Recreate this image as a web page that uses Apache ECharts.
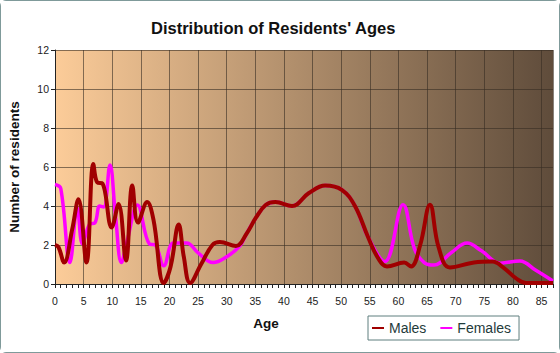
<!DOCTYPE html>
<html>
<head>
<meta charset="utf-8">
<script src="https://cdn.jsdelivr.net/npm/echarts@6/dist/echarts.min.js"></script>
<style>
  html, body { margin: 0; padding: 0; background: #fff; }
  #chart {
    width: 560px;
    height: 353px;
    box-sizing: border-box;
    border: 1px solid #7f9a9a;
    border-radius: 6px;
  }
</style>
</head>
<body>
<div id="chart"></div>
<script>
// Males: age and number of residents
const maleAges = [0, 0.6, 1.6, 3, 4.1, 5.5, 6.7, 7.4, 8.3, 9.9, 11.1, 12.4, 13.5, 14.5, 16.1, 17.2, 19, 20.2, 21.6, 22.5, 23.6, 25.5, 27.5, 28.8, 31.6, 33.5, 35.1, 36.8, 38.5, 41.4, 44.3, 47.2, 50.1, 52.4, 54.7, 56.5, 58, 61, 62.2, 63.8, 65.5, 67, 69, 73.2, 76.4, 78.5, 80.5, 82.3, 87];
const maleCounts = [2.0, 1.9, 1.1, 2.8, 4.35, 1.1, 6.15, 5.2, 5.15, 2.9, 4.1, 1.2, 5.05, 3.15, 4.2, 3.3, 0.05, 0.9, 3.05, 1.4, 0.05, 1.0, 2.0, 2.15, 1.95, 2.6, 3.4, 4.05, 4.2, 4.0, 4.65, 5.05, 4.83, 4.0, 2.4, 1.3, 0.9, 1.1, 0.9, 2.0, 4.07, 1.9, 0.85, 1.1, 1.15, 0.8, 0.3, 0.05, 0.05];

// Females
const femaleAges = [0, 1, 2.6, 3.9, 4.8, 6, 7, 7.8, 8.5, 9.6, 10.6, 11.6, 12.6, 14.4, 16.5, 17.5, 19, 20.7, 23, 25, 27.6, 30, 32.3, 33.5, 35.1, 36.8, 38.5, 41.4, 44.3, 47.2, 50.1, 52.4, 54.7, 57.6, 60.8, 62.8, 64.5, 66.2, 69.2, 72, 74.5, 77.8, 81.2, 84, 87];
const femaleCounts = [5.1, 4.9, 1.1, 3.9, 2.05, 3.05, 3.15, 4.0, 3.95, 6.1, 3.4, 1.1, 2.2, 4.05, 2.05, 2.0, 0.93, 2.1, 2.1, 1.6, 1.1, 1.4, 1.95, 2.6, 3.4, 4.05, 4.2, 4.0, 4.65, 5.05, 4.83, 4.0, 2.4, 1.15, 4.07, 1.8, 1.1, 0.97, 1.6, 2.1, 1.7, 1.07, 1.18, 0.7, 0.15];

const xMax = 87;
const yTicks = [0, 2, 4, 6, 8, 10, 12];

const zip = (xs, ys) => xs.map((x, i) => [x, ys[i]]);

const chart = echarts.init(document.getElementById('chart'), null, { renderer: 'svg' });

const labelFont = 'Liberation Sans, Arial, sans-serif';

chart.setOption({
  animation: false,
  backgroundColor: '#ffffff',
  title: {
    text: "Distribution of Residents' Ages",
    left: 145,
    top: 13,
    textStyle: { fontFamily: labelFont, fontSize: 16.5, fontWeight: 'bold', color: '#111' }
  },
  legend: {
    left: 367,
    top: 315,
    padding: [5, 8, 5, 4],
    itemGap: 14,
    itemWidth: 12,
    itemHeight: 2,
    icon: 'rect',
    borderColor: '#5f7f7f',
    borderWidth: 1,
    textStyle: { fontFamily: labelFont, fontSize: 14, color: '#1f3b3b' },
    data: ['Males', 'Females']
  },
  grid: {
    left: 54,
    right: 6,
    top: 49,
    bottom: 68,
    outerBoundsMode: 'none',
    show: true,
    borderWidth: 0,
    backgroundColor: new echarts.graphic.LinearGradient(0, 0, 1, 0, [
      { offset: 0, color: '#fccc99' },
      { offset: 1, color: '#5f4c3b' }
    ])
  },
  xAxis: {
    type: 'value',
    min: 0,
    max: xMax,
    interval: 5,
    name: 'Age',
    nameLocation: 'middle',
    nameGap: 32,
    nameTextStyle: { fontFamily: labelFont, fontSize: 13.5, fontWeight: 'bold', color: '#111', padding: [0, 76, 0, 0] },
    axisLine: { lineStyle: { color: '#222', width: 1 } },
    axisTick: { show: true, length: 4, lineStyle: { color: '#222' } },
    minorTick: { show: true, splitNumber: 5, length: 4, lineStyle: { color: '#222' } },
    axisLabel: {
      fontFamily: labelFont,
      fontSize: 10.5,
      color: '#222',
      margin: 11,
      formatter: v => (v % 5 === 0 ? String(v) : '')
    },
    splitLine: { show: true, lineStyle: { color: 'rgba(55,45,35,0.6)', width: 1 } }
  },
  yAxis: {
    type: 'value',
    min: yTicks[0],
    max: yTicks[yTicks.length - 1],
    interval: 2,
    name: 'Number of residents',
    nameLocation: 'middle',
    nameGap: 34,
    nameTextStyle: { fontFamily: labelFont, fontSize: 13.5, fontWeight: 'bold', color: '#111' },
    axisLine: { show: true, lineStyle: { color: '#222', width: 1 } },
    axisTick: { show: true, length: 4, lineStyle: { color: '#222' } },
    axisLabel: { fontFamily: labelFont, fontSize: 10.5, color: '#222', margin: 6 },
    splitLine: { show: true, lineStyle: { color: 'rgba(55,45,35,0.6)', width: 1 } }
  },
  series: [
    {
      name: 'Females',
      type: 'line',
      data: zip(femaleAges, femaleCounts),
      smooth: 0.4,
      showSymbol: false,
      z: 2,
      lineStyle: { color: '#ff00ff', width: 3.5 },
      itemStyle: { color: '#ff00ff' }
    },
    {
      name: 'Males',
      type: 'line',
      data: zip(maleAges, maleCounts),
      smooth: 0.4,
      showSymbol: false,
      z: 3,
      lineStyle: { color: '#a00000', width: 4 },
      itemStyle: { color: '#a00000' }
    }
  ]
});
</script>
</body>
</html>
